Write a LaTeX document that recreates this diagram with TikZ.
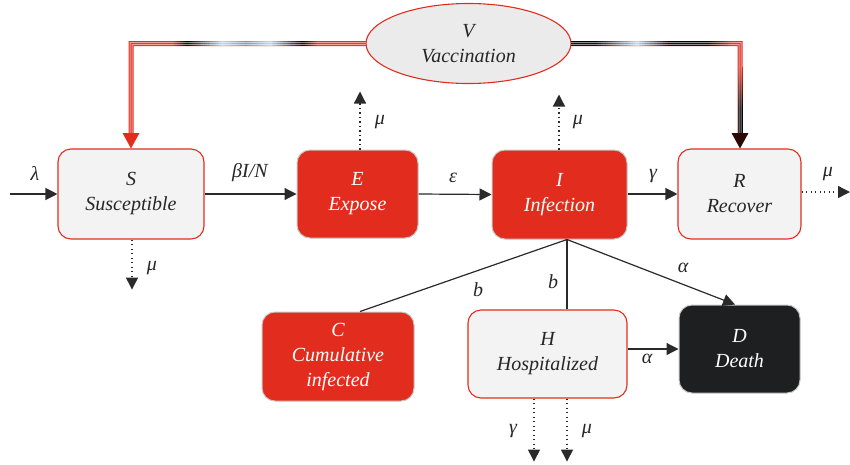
\documentclass[tikz,border=0pt]{standalone}
\usepackage{fontspec}
\setmainfont{Liberation Serif}
\usetikzlibrary{arrows.meta,shapes.geometric,calc}
\definecolor{cred}{HTML}{E22D1E}
\definecolor{cgray}{HTML}{F3F3F3}
\definecolor{cblack}{HTML}{1E1F21}
\definecolor{cell}{HTML}{EBEBEB}
\definecolor{cblue}{HTML}{B5D3EE}
\definecolor{cgb}{HTML}{7E93AA}
\definecolor{cline}{HTML}{2A2A2A}
\tikzset{
  box/.style={rectangle, rounded corners=13pt, align=center,
    font=\itshape\fontsize{20}{25}\selectfont, inner sep=0pt},
  redbox/.style={box, fill=cred, draw=gray!45, line width=1pt, text=white},
  graybox/.style={box, fill=cgray, draw=cred, line width=1.1pt, text=black!85},
  blackbox/.style={box, fill=cblack, draw=gray!45, line width=1pt, text=white},
  lbl/.style={font=\itshape\fontsize{20}{24}\selectfont, text=black!85, inner sep=0pt},
  flow/.style={cline, line width=1.2pt, -{Triangle[length=12pt,width=12pt]}},
  plainline/.style={cline, line width=1.2pt},
  outflow/.style={cline, line width=1.3pt, dash pattern=on 1.3pt off 3.2pt, -{Triangle[length=12pt,width=12pt]}},
  gap/.style={white, fill opacity=0.55},
}
% L-shaped bands of the vaccination connectors (offsets #1<#2, style #3)
\newcommand\vacLeftBand[3]{\fill[#3] (366,{43.5+(#1)}) -- ({131+(#1)},{43.5+(#1)}) -- ({131+(#1)},134) -- ({131+(#2)},134) -- ({131+(#2)},{43.5+(#2)}) -- (366,{43.5+(#2)}) -- cycle;}
\newcommand\vacRightBand[3]{\fill[#3] (571,{43.5+(#1)}) -- ({740-(#1)},{43.5+(#1)}) -- ({740-(#1)},134) -- ({740-(#2)},134) -- ({740-(#2)},{43.5+(#2)}) -- (571,{43.5+(#2)}) -- cycle;}
% stepwise colour gradients (x1,x2,colA,colB) horizontal; (y1,y2,colA,colB) vertical
\newcommand\vacGradH[4]{%
  \foreach \k in {0,...,19}{%
    \pgfmathtruncatemacro\pa{100-\k*100/19}%
    \pgfmathsetmacro\xa{#1+(#2-#1)*\k/20}%
    \pgfmathsetmacro\xb{#1+(#2-#1)*(\k+1)/20+0.4}%
    \fill[#3!\pa!#4] (\xa,41) rectangle (\xb,46);
  }}
\newcommand\vacGradV[4]{%
  \foreach \k in {0,...,19}{%
    \pgfmathtruncatemacro\pa{100-\k*100/19}%
    \pgfmathsetmacro\ya{#1+(#2-#1)*\k/20}%
    \pgfmathsetmacro\yb{#1+(#2-#1)*(\k+1)/20+0.4}%
    \fill[#3!\pa!#4] (737.5,\ya) rectangle (742.5,\yb);
  }}
\begin{document}
\begin{tikzpicture}[x=1pt,y=-1pt]
\useasboundingbox (0,0) rectangle (850,464);

% nodes
\node[graybox, minimum width=146pt, minimum height=90pt] (S) at (131,194) {S\\Susceptible};
\node[redbox, minimum width=121pt, minimum height=88pt] (E) at (357.5,194) {E\\Expose};
\node[redbox, minimum width=135pt, minimum height=89pt] (I) at (559.5,194.5) {I\\Infection};
\node[graybox, minimum width=123pt, minimum height=90pt] (R) at (739.5,194) {R\\Recover};
\node[redbox, minimum width=152pt, minimum height=89pt] (C) at (338,356.5) {C\\Cumulative\\infected};
\node[graybox, minimum width=159pt, minimum height=88pt] (H) at (547.5,354) {H\\Hospitalized};
\node[blackbox, minimum width=121pt, minimum height=88pt] (D) at (739.5,349) {D\\Death};
\node[ellipse, fill=cell, draw=cred, line width=1.1pt, minimum width=205pt, minimum height=80pt,
  align=center, font=\itshape\fontsize{20}{25}\selectfont, text=black!85, inner sep=0pt] (V) at (468.5,43.5) {V\\Vaccination};

% vaccination connectors: V -> S (left) and V -> R (right)
\vacLeftBand{-2.5}{2.5}{cred}
\vacGradH{172}{187}{cred}{black}
\vacGradH{187}{223}{black}{cblue}
\vacGradH{223}{246}{cblue}{cgb}
\vacGradH{246}{270}{cgb}{cblue}
\vacGradH{270}{303}{cblue}{black}
\vacGradH{303}{318}{black}{cred}
\vacLeftBand{-1.5}{-0.5}{gap}
\vacLeftBand{0.5}{1.5}{gap}
\fill[cred] (122.5,133) -- (139.5,133) -- (S.north -| 131,0) -- cycle;

\vacRightBand{-2.5}{2.5}{cred}
\fill[black] (571,41) rectangle (595,46);
\vacGradH{595}{637}{black}{cblue}
\vacGradH{637}{670}{cblue}{black}
\fill[black] (670,41) rectangle (707.5,46);
\vacGradH{707}{733}{black}{cred}
\vacGradV{67}{110}{cred}{black}
\fill[black] (737.5,110) rectangle (742.5,134);
\vacRightBand{-1.5}{-0.5}{gap}
\vacRightBand{0.5}{1.5}{gap}
\fill[black!80!cred] (731.5,133) -- (748.5,133) -- (R.north -| 740,0) -- cycle;

% coordinates
\coordinate (lam) at (10,194);
\coordinate (br) at ($(I.south)+(7.5,0)$);
\coordinate (Ctop) at ($(C.north)+(22,0)$);
\coordinate (Htop) at ($(H.north)+(19.5,0)$);
\coordinate (Dtop) at ($(D.north)+(-4.5,0)$);
\coordinate (Eup) at ($(E.north)+(2.5,-58)$);
\coordinate (Ebase) at ($(E.north)+(2.5,0)$);
\coordinate (Iup) at ($(I.north)+(-0.5,-55)$);
\coordinate (Ibase) at ($(I.north)+(-0.5,0)$);
\coordinate (Sdown) at ($(S.south)+(1,50)$);
\coordinate (Sbase) at ($(S.south)+(1,0)$);
\coordinate (Rout) at (850,192);
\coordinate (Rbase) at (R.east |- Rout);
\coordinate (H1base) at ($(H.south)+(-13.5,0)$);
\coordinate (H1) at ($(H.south)+(-13.5,63)$);
\coordinate (H2base) at ($(H.south)+(19.5,0)$);
\coordinate (H2) at ($(H.south)+(19.5,63)$);

% flows
\draw[flow] (lam) -- (S.west);
\draw[flow] (S.east) -- (E.west);
\draw[flow] (E.east) -- (I.west);
\draw[flow] (I.east |- R.west) -- (R.west);
\draw[plainline] (br) -- (Ctop);
\draw[plainline] (br) -- (Htop);
\draw[flow] (br) -- (Dtop);
\draw[flow] (H.east |- D.west) -- (D.west);

% outflows
\draw[outflow] (Ebase) -- (Eup);
\draw[outflow] (Ibase) -- (Iup);
\draw[outflow] (Sbase) -- (Sdown);
\draw[outflow] (Rbase) -- (Rout);
\draw[outflow] (H1base) -- (H1);
\draw[outflow] (H2base) -- (H2);

% labels
\node[lbl] (l1) at (35,173) {λ};
\node[lbl] (l2) at (250,173) {βI/N};
\node[lbl] (l3) at (453,178) {ε};
\node[lbl] (l4) at (653,176) {γ};
\node[lbl] (l5) at (380,122) {μ};
\node[lbl] (l6) at (578,122) {μ};
\node[lbl] (l7) at (152,268) {μ};
\node[lbl] (l8) at (828,174) {μ};
\node[lbl] (l9) at (478,290) {b};
\node[lbl] (l10) at (553,282) {b};
\node[lbl] (l11) at (683,268) {α};
\node[lbl] (l12) at (647,359) {α};
\node[lbl] (l13) at (513,431) {γ};
\node[lbl] (l14) at (587,431) {μ};
\end{tikzpicture}
\end{document}
